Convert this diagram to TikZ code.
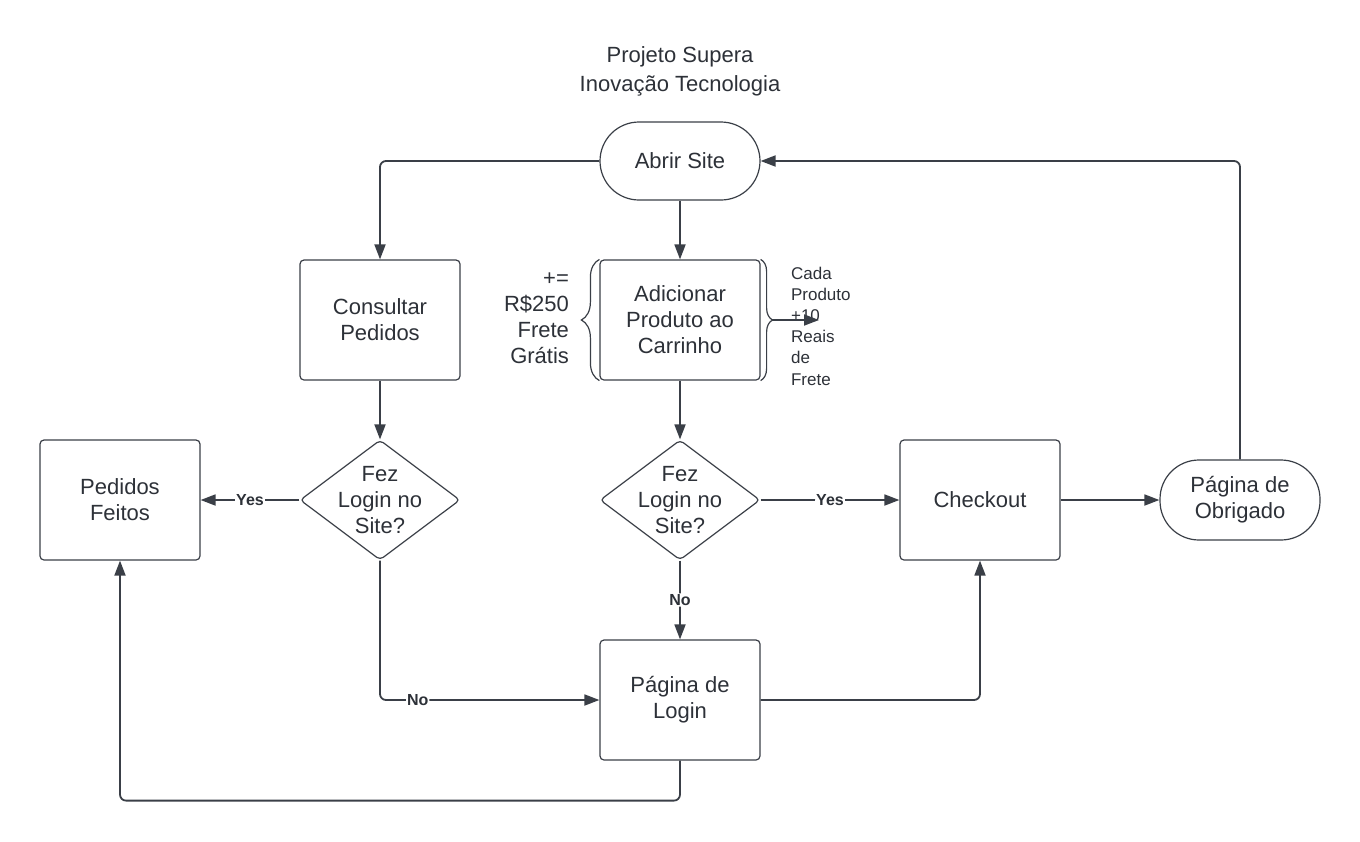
\documentclass[tikz,border=0pt]{standalone}
\usepackage{fontspec}
\setmainfont{Liberation Sans}
\usetikzlibrary{shapes.geometric,arrows.meta,decorations.pathreplacing}
\definecolor{linha}{RGB}{58,63,71}
\definecolor{texto}{RGB}{45,49,56}
\tikzset{
    caixa/.style={draw=linha, line width=0.6pt, rounded corners=2pt, minimum width=80pt, minimum height=60pt,
      inner sep=0pt, align=center, text=texto, font=\fontsize{11}{13}\selectfont},
    terminal/.style={caixa, rounded corners=19.5pt, minimum height=39pt},
    decisao/.style={draw=linha, line width=0.6pt, diamond, rounded corners=2pt, minimum width=80pt, minimum height=60pt, inner sep=0pt},
    seta/.style={draw=linha, line width=0.9pt, rounded corners=3pt, -{Triangle[length=7.5pt,width=5.5pt]}},
    rotulo/.style={fill=white, inner sep=0.5pt, text=texto, font=\bfseries\fontsize{8}{9}\selectfont},
    chave/.style={draw=linha, line width=0.6pt, decorate},
  }
\begin{document}
\begin{tikzpicture}[x=0.5pt,y=-0.5pt]
				  %fundo
				  \useasboundingbox (0,0) rectangle (1360,841);
				  %titulo
                                    \node[align=center, text=texto, font=\fontsize{11}{14.5}\selectfont] (titulo) at (680,71) {Projeto Supera\\Inovação Tecnologia};
                                    \node[terminal] (abrir) at (680,161) {Abrir Site};
                                    \node[caixa] (consultar) at (380,320) {Consultar\\Pedidos};
                                    \node[caixa] (adicionar) at (680,320) {Adicionar\\Produto ao\\Carrinho};
                                    \node[decisao, label={[align=center, text=texto, font=\fontsize{11}{13}\selectfont]center:Fez\\Login no\\Site?}] (fez1) at (380,500) {};
                                    \node[decisao, label={[align=center, text=texto, font=\fontsize{11}{13}\selectfont]center:Fez\\Login no\\Site?}] (fez2) at (680,500) {};
                                    \node[caixa] (pedidos) at (120,500) {Pedidos\\Feitos};
                                    \node[caixa] (checkout) at (980,500) {Checkout};
                                    \node[terminal, minimum height=40pt] (obrigado) at (1240,500) {Página de\\Obrigado};
                                    \node[caixa] (login) at (680,700) {Página de\\Login};
				  %chaves do carrinho
                                    \draw[chave, decoration={brace, amplitude=9pt}] (adicionar.south west) -- (adicionar.north west);
                                    \draw[chave, decoration={brace, amplitude=6pt}] (adicionar.north east) -- (adicionar.south east);
                                    \coordinate (ponta) at (772,320);
                                    \coordinate (frete) at (819,320);
                                    \node[anchor=east, align=right, text=texto, font=\fontsize{11}{13}\selectfont] (gratis) at (576,318) {+=\\R\$250\\Frete\\Grátis};
                                    \node[anchor=west, align=left, text=texto, font=\fontsize{8.5}{10.6}\selectfont] (cada) at (784,326) {Cada\\Produto\\+10\\Reais\\de\\Frete};
                                    \draw[seta] (ponta) -- (frete);
				  %ligacoes
                                    \draw[seta] (abrir.west) -| (consultar.north);
                                    \draw[seta] (abrir.south) -- (adicionar.north);
                                    \draw[seta] (obrigado.north) |- (abrir.east);
                                    \draw[seta] (consultar.south) -- (fez1.north);
                                    \draw[seta] (adicionar.south) -- (fez2.north);
                                    \draw[seta] (fez1.west) -- node[rotulo] {Yes} (pedidos.east);
                                    \draw[seta] (fez1.south) |- node[rotulo, pos=0.586] {No} (login.west);
                                    \draw[seta] (fez2.east) -- node[rotulo] {Yes} (checkout.west);
                                    \draw[seta] (fez2.south) -- node[rotulo] {No} (login.north);
                                    \draw[seta] (checkout.east) -- (obrigado.west);
                                    \draw[seta] (login.east) -| (checkout.south);
                                    \draw[seta] (login.south) -- ++(0,40) -| (pedidos.south);
				  \end{tikzpicture}
\end{document}
